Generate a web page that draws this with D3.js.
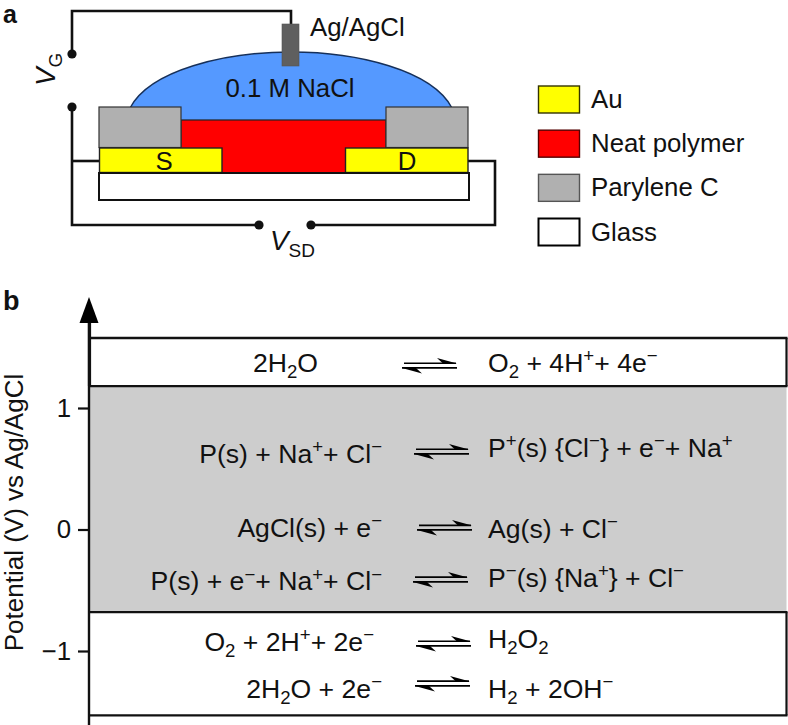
<!DOCTYPE html>
<html><head><meta charset="utf-8">
<script src="https://cdnjs.cloudflare.com/ajax/libs/d3/7.8.5/d3.min.js"></script>
<style>html,body{margin:0;padding:0;background:#fff}svg{display:block}
text{font-family:"Liberation Sans",Arial,sans-serif;fill:#111}</style>
</head><body><div id="c"></div>
<script>
// Panel b values
const potentialTicks = [1, 0, -1];
const bandEdges = [1.576, 1.18, -0.68, -1.53];
const bandFills = ["#ffffff", "#cdcdcd", "#ffffff"];
const leftSpecies = ["2H_{2}O", "P(s) + Na^{+}+ Cl^{−}", "AgCl(s) + e^{−}", "P(s) + e^{−}+ Na^{+}+ Cl^{−}", "O_{2} + 2H^{+}+ 2e^{−}", "2H_{2}O + 2e^{−}"];
const rightSpecies = ["O_{2} + 4H^{+}+ 4e^{−}", "P^{+}(s) {Cl^{−}} + e^{−}+ Na^{+}", "Ag(s) + Cl^{−}", "P^{−}(s) {Na^{+}} + Cl^{−}", "H_{2}O_{2}", "H_{2} + 2OH^{−}"];
const leftPotential = [1.296, 0.55, -0.06, -0.50, -1.0, -1.387];
const rightPotential = [1.296, 0.597, -0.07, -0.473, -0.975, -1.387];
const arrowPotential = [1.354, 0.646, 0.02, -0.407, -0.934, -1.263];
// Panel a legend
const legendNames = ["Au", "Neat polymer", "Parylene C", "Glass"];
const legendFills = ["#ffff00", "#ff0000", "#b0b0b0", "#ffffff"];
const legendStrokes = ["#333300", "#550000", "#555555", "#000000"];

const W = 788, H = 725, FS = 25.8, RS = 26.6;
const svg = d3.select("#c").append("svg").attr("width", W).attr("height", H).attr("viewBox", `0 0 ${W} ${H}`);
svg.append("rect").attr("width", W).attr("height", H).attr("fill", "#fff");

function rich(sel, s, size) {
  const parts = s.split(/(\^\{[^}]*\}|_\{[^}]*\})/).filter(p => p !== "");
  let shift = 0;
  parts.forEach(p => {
    let target = 0, txt = p, fs = size;
    if (p.startsWith("^{")) { target = -0.36 * size; txt = p.slice(2, -1); fs = size * 0.7; }
    else if (p.startsWith("_{")) { target = 0.24 * size; txt = p.slice(2, -1); fs = size * 0.7; }
    sel.append("tspan").attr("dy", target - shift).attr("font-size", fs).text(txt);
    shift = target;
  });
}

/* ---------- panel a ---------- */
const a = svg.append("g");
a.append("text").attr("x", 3).attr("y", 23).attr("font-size", 25).attr("font-weight", "bold").text("a");

const wire = d3.line();
const wires = [
  [[72,54],[72,11],[291,11],[291,26]],
  [[72,107],[72,225],[259,225]],
  [[72,161],[100,161]],
  [[311,225],[495,225],[495,161],[468,161]]
];
a.selectAll(".wire").data(wires).join("path").attr("class","wire")
  .attr("d", wire).attr("fill","none").attr("stroke","#111").attr("stroke-width",2.6);
a.selectAll(".dot").data([[72,54],[72,107],[259,225],[311,225]]).join("circle").attr("class","dot")
  .attr("cx",d=>d[0]).attr("cy",d=>d[1]).attr("r",4.6).attr("fill","#111");

// droplet
a.append("path").attr("d","M130,108 C150,70 225,52 291,52 C357,52 432,70 452,108 L452,125 L130,125 Z")
  .attr("fill","#5599ff").attr("stroke","none");
a.append("path").attr("d","M130,108 C150,70 225,52 291,52 C357,52 432,70 452,108")
  .attr("fill","none").attr("stroke","#16305a").attr("stroke-width",1.4);
// polymer
a.append("rect").attr("x",181).attr("y",120).attr("width",205).attr("height",53).attr("fill","#ff0000").attr("stroke","#222").attr("stroke-width",1.2);
// parylene
[[99,82],[386,82]].forEach(d=>a.append("rect").attr("x",d[0]).attr("y",107).attr("width",d[1]).attr("height",40.5)
  .attr("fill","#b0b0b0").attr("stroke","#333").attr("stroke-width",1.2));
// gold
[[99.5,122.5],[345.5,122.5]].forEach(d=>a.append("rect").attr("x",d[0]).attr("y",148).attr("width",d[1]).attr("height",24.5)
  .attr("fill","#ffff00").attr("stroke","#222").attr("stroke-width",1.4));
// glass
a.append("rect").attr("x",99).attr("y",173).attr("width",370).attr("height",27).attr("fill","#fff").attr("stroke","#111").attr("stroke-width",2);
// electrode
a.append("rect").attr("x",282).attr("y",24).attr("width",17).attr("height",42).attr("fill","#5f5f5f").attr("stroke","#555").attr("stroke-width",.6);

a.append("text").attr("x",310).attr("y",36).attr("font-size",FS).text("Ag/AgCl");
a.append("text").attr("x",290).attr("y",96.5).attr("text-anchor","middle").attr("font-size",FS).text("0.1 M NaCl");
a.append("text").attr("x",164).attr("y",169.5).attr("text-anchor","middle").attr("font-size",FS).text("S");
a.append("text").attr("x",407).attr("y",169.5).attr("text-anchor","middle").attr("font-size",FS).text("D");
const vg = a.append("text").attr("transform","translate(55,86) rotate(-90)").attr("font-size",FS+2);
vg.append("tspan").attr("font-style","italic").text("V");
vg.append("tspan").attr("dy",7).attr("font-size",19).text("G");
const vsd = a.append("text").attr("x",270).attr("y",250).attr("font-size",FS+2);
vsd.append("tspan").attr("font-style","italic").text("V");
vsd.append("tspan").attr("dy",7).attr("font-size",19).text("SD");

// legend
const legendBandY = d3.scalePoint().domain(legendNames).range([99.5, 232]);
const lg = a.selectAll(".lg").data(legendNames).join("g").attr("class","lg")
  .attr("transform", d => `translate(0,${legendBandY(d)})`);
lg.append("rect").attr("x",538.5).attr("y",-13.5).attr("width",41).attr("height",27)
  .attr("fill",(d,i)=>legendFills[i]).attr("stroke",(d,i)=>legendStrokes[i]).attr("stroke-width",(d,i)=>i===3?2:1.4);
lg.append("text").attr("x",591).attr("y",8.5).attr("font-size",FS).text(d=>d);

/* ---------- panel b ---------- */
const b = svg.append("g");
b.append("text").attr("x",3).attr("y",310).attr("font-size",27).attr("font-weight","bold").text("b");

const y = d3.scaleLinear().domain([-1, 1]).range([651, 408]);
const xL = 90, xR = 786.5;

bandFills.forEach((f,i)=>{
  b.append("rect").attr("x",xL).attr("y",y(bandEdges[i])).attr("width",xR-xL)
    .attr("height",y(bandEdges[i+1])-y(bandEdges[i])).attr("fill",f);
});
// borders
bandEdges.forEach(e=>b.append("line").attr("x1",xL).attr("x2",xR+1).attr("y1",y(e)).attr("y2",y(e))
  .attr("stroke","#111").attr("stroke-width",2.4));
[[bandEdges[0],bandEdges[1]],[bandEdges[2],bandEdges[3]]].forEach(r=>b.append("line").attr("x1",xR).attr("x2",xR)
  .attr("y1",y(r[0])).attr("y2",y(r[1])).attr("stroke","#111").attr("stroke-width",2.2));

// axis
const axis = d3.axisLeft(y).tickValues(potentialTicks).tickSize(11).tickPadding(7)
  .tickFormat(d => d < 0 ? "−" + Math.abs(d) : d);
const ax = b.append("g").attr("transform","translate(89,0)").call(axis);
ax.select(".domain").remove();
ax.selectAll(".tick line").attr("stroke","#111").attr("stroke-width",2.2);
ax.selectAll(".tick text").attr("font-size",FS).attr("font-family",'"Liberation Sans",Arial,sans-serif').attr("fill","#111");
b.append("line").attr("x1",89).attr("x2",89).attr("y1",322).attr("y2",725).attr("stroke","#111").attr("stroke-width",2.4);
b.append("line").attr("x1",89.5).attr("x2",89.5).attr("y1",322).attr("y2",386).attr("stroke","#111").attr("stroke-width",3.2);
b.append("path").attr("d","M79.5,323 L98.5,323 L89,297 Z").attr("fill","#000");
b.append("text").attr("transform","translate(23,512.5) rotate(-90)").attr("text-anchor","middle").attr("font-size",26).text("Potential (V) vs Ag/AgCl");

// reactions
const leftEnd = [318, 382, 382, 382, 374, 382];
const arrowStart = [402, 414, 417, 413, 416, 415];
const arrowLen = 55;
leftSpecies.forEach((s,i)=>{
  const t = b.append("text").attr("x",leftEnd[i]).attr("y",y(leftPotential[i])).attr("text-anchor","end").attr("font-size",RS);
  rich(t,s,RS);
});
rightSpecies.forEach((s,i)=>{
  const t = b.append("text").attr("x",488).attr("y",y(rightPotential[i])).attr("font-size",RS);
  rich(t,s,RS);
});
arrowPotential.forEach((v,i)=>{
  const x0 = arrowStart[i], x1 = x0 + arrowLen, c = y(v);
  const g = b.append("g").attr("fill","#000");
  g.append("path").attr("d",`M${x0+2},${c-2.6} H${x1-1} V${c-0.9} H${x0+2} Z`);
  g.append("path").attr("d",`M${x0},${c+2} H${x1} V${c+3.7} H${x0} Z`);
  g.append("path").attr("d",`M${x1},${c-1.5} L${x1-20},${c-7} L${x1-14},${c-1.5} Z`);
  g.append("path").attr("d",`M${x0},${c+3} L${x0+20},${c+8.5} L${x0+14},${c+3} Z`);
});
</script></body></html>
